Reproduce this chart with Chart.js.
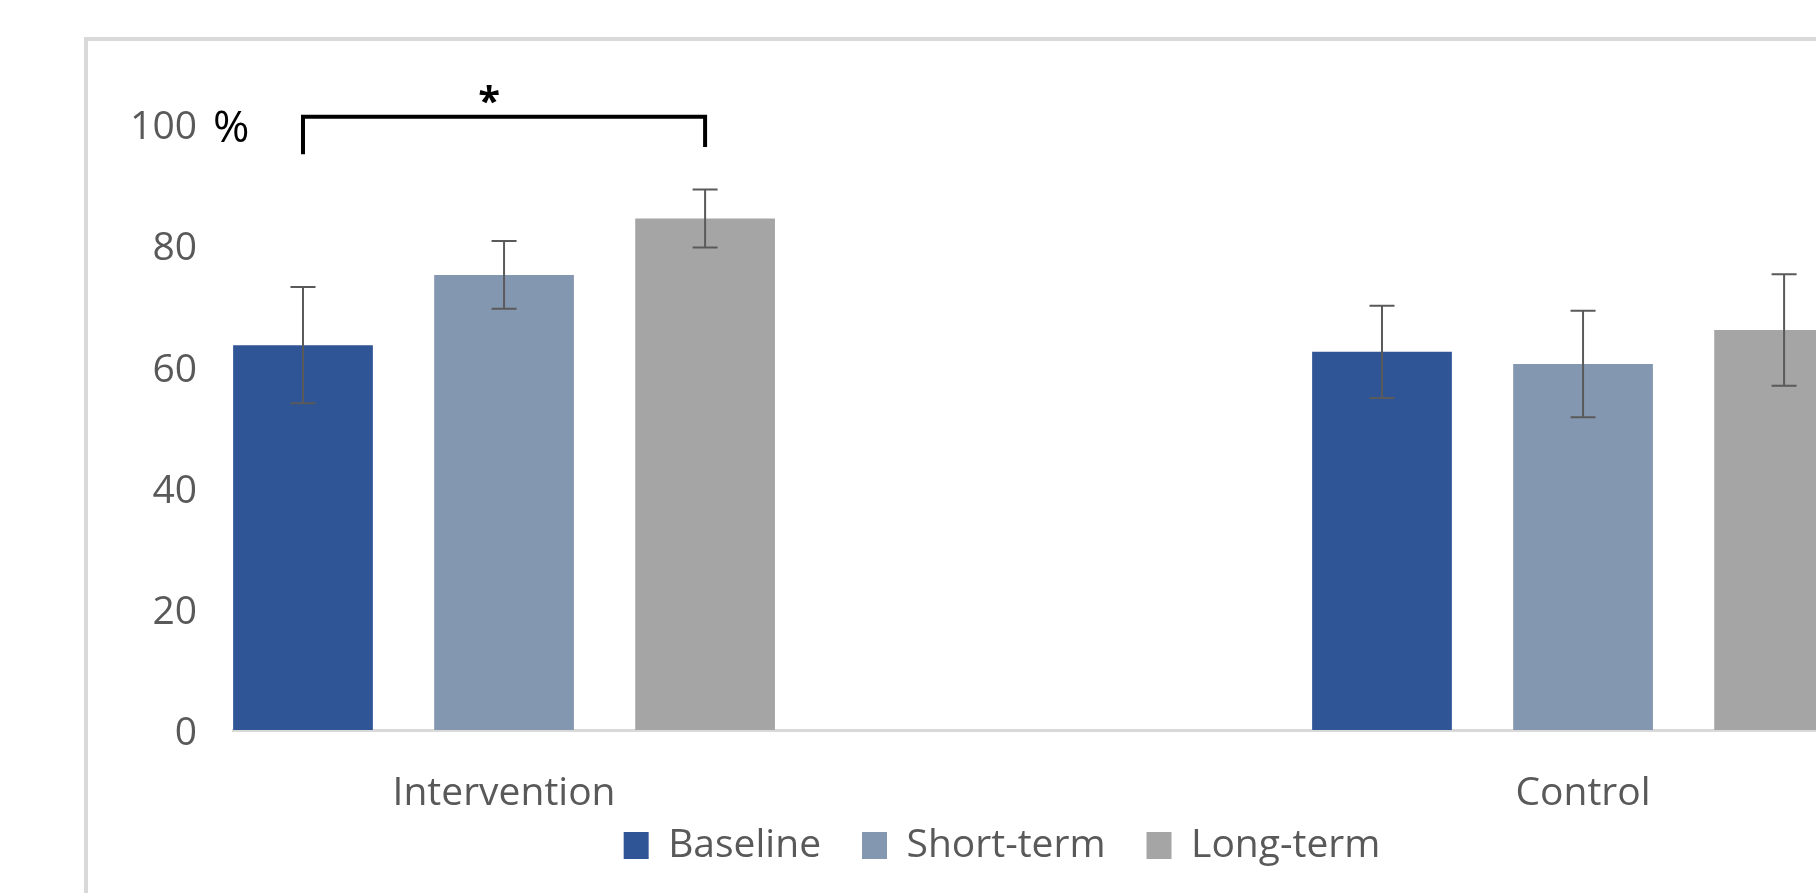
<!DOCTYPE html>
<html><head><meta charset="utf-8">
<script src="https://cdn.jsdelivr.net/npm/chart.js@4.4.1/dist/chart.umd.min.js"></script>
<style>
html,body{margin:0;padding:0;background:#fff;overflow:hidden;width:1816px;height:893px;}
#frame{position:absolute;left:84px;top:37px;width:2000px;height:2000px;border-top:4px solid #d9d9d9;border-left:4px solid #d9d9d9;box-sizing:border-box;}
#c{position:absolute;left:0;top:0;}
</style></head><body>
<div id="frame"></div>
<canvas id="c" width="1816" height="893"></canvas>
<script>
// ---- data ----
const categories = ['Intervention', 'Control'];
const seriesNames = ['Baseline', 'Short-term', 'Long-term'];
const baseline = [63.5, 62.4];
const shortTerm = [75.1, 60.4];
const longTerm = [84.4, 66.0];
const baselineErr = [9.6, 7.6];
const shortTermErr = [5.6, 8.8];
const longTermErr = [4.8, 9.2];
const yTicks = [0, 20, 40, 60, 80, 100];
const bracketLevels = [101.2, 95.0, 96.2]; // top, left end, right end (in %)
const starLevel = [104.8];
const unitLabel = '%';
const starLabel = '*';

// ---- styles ----
const colors = ['#2F5597', '#8497B0', '#A5A5A5'];
const FONT = 'Open Sans';
const TEXT = '#595959';

const values = [baseline, shortTerm, longTerm];
const errors = [baselineErr, shortTermErr, longTermErr];

const annotate = {
  id: 'annotate',
  afterLayout(chart) {
    // let the category labels overflow the (short) axis box
    chart.scales.x._computeLabelArea = () => undefined;
  },
  afterDatasetsDraw(chart) {
    const {ctx, scales: {y}} = chart;
    ctx.save();
    ctx.strokeStyle = '#5a5a5a';
    ctx.lineWidth = 2;
    errors.forEach((errArr, d) => {
      const meta = chart.getDatasetMeta(d);
      meta.data.forEach((bar, i) => {
        const v = values[d][i], e = errArr[i];
        const yt = y.getPixelForValue(v + e), yb = y.getPixelForValue(v - e);
        const cap = 12.5;
        ctx.beginPath();
        ctx.moveTo(bar.x, yt); ctx.lineTo(bar.x, yb);
        ctx.moveTo(bar.x - cap, yt); ctx.lineTo(bar.x + cap, yt);
        ctx.moveTo(bar.x - cap, yb); ctx.lineTo(bar.x + cap, yb);
        ctx.stroke();
      });
    });
    ctx.restore();
  },
  afterDraw(chart) {
    const {ctx, scales: {y}} = chart;
    const b0 = chart.getDatasetMeta(0).data[0];
    const b2 = chart.getDatasetMeta(2).data[0];
    const yTop = y.getPixelForValue(bracketLevels[0]);
    const yL = y.getPixelForValue(bracketLevels[1]);
    const yR = y.getPixelForValue(bracketLevels[2]);
    ctx.save();
    ctx.strokeStyle = '#000';
    ctx.lineWidth = 4;
    ctx.lineJoin = 'miter';
    ctx.beginPath();
    ctx.moveTo(b0.x, yL);
    ctx.lineTo(b0.x, yTop);
    ctx.lineTo(b2.x, yTop);
    ctx.lineTo(b2.x, yR);
    ctx.stroke();
    // asterisk
    ctx.fillStyle = '#000';
    ctx.font = 'bold 40px "' + FONT + '"';
    ctx.textAlign = 'center';
    ctx.textBaseline = 'alphabetic';
    const m = ctx.measureText(starLabel);
    const cy = y.getPixelForValue(starLevel[0]);
    const base = cy + (m.actualBoundingBoxAscent - m.actualBoundingBoxDescent) / 2;
    ctx.fillText(starLabel, (b0.x + b2.x) / 2 - 15, base);
    // unit label
    ctx.font = '44px "' + FONT + '"';
    ctx.textAlign = 'left';
    const m2 = ctx.measureText(unitLabel);
    const cy2 = y.getPixelForValue(yTicks[yTicks.length - 1]) + 2;
    const base2 = cy2 + (m2.actualBoundingBoxAscent - m2.actualBoundingBoxDescent) / 2;
    ctx.fillText(unitLabel, y.right - 20, base2);
    ctx.restore();
  }
};

new Chart(document.getElementById('c'), {
  type: 'bar',
  data: {
    datasets: seriesNames.map((name, d) => ({
      label: name,
      data: categories.map((c, i) => ({x: i, y: values[d][i]})),
      backgroundColor: colors[d],
      borderWidth: 0,
      barPercentage: 0.695,
      categoryPercentage: 0.559
    }))
  },
  options: {
    responsive: false,
    animation: false,
    devicePixelRatio: 1,
    events: [],
    layout: {padding: {top: 124, left: 0, right: -188, bottom: 18}},
    plugins: {
      tooltip: {enabled: false},
      legend: {
        position: 'bottom',
        align: 'center',
        labels: {
          boxWidth: 25, boxHeight: 27, padding: 41,
          color: TEXT,
          font: {family: FONT, size: 39}
        }
      }
    },
    scales: {
      x: {
        type: 'linear',
        min: -0.2512, max: 1.2159,
        offset: false,
        grid: {display: false, drawTicks: false},
        border: {display: true, color: '#d9d9d9', width: 3},
        afterBuildTicks: s => { s.ticks = categories.map((c, i) => ({value: i})); },
        afterFit: s => { s.height = 55; },
        ticks: {
          padding: 40.5, color: TEXT, autoSkip: false, maxRotation: 0,
          font: {family: FONT, size: 39},
          callback: v => categories[v] ?? ''
        }
      },
      y: {
        min: 0, max: 100,
        grid: {display: false, drawTicks: false},
        border: {display: false},
        afterBuildTicks: s => { s.ticks = yTicks.map(v => ({value: v})); },
        afterFit: s => { s.width = 233; },
        ticks: {padding: 36, labelOffset: 4, color: TEXT, font: {family: FONT, size: 39}}
      }
    }
  },
  plugins: [annotate]
});
</script>
</body></html>
